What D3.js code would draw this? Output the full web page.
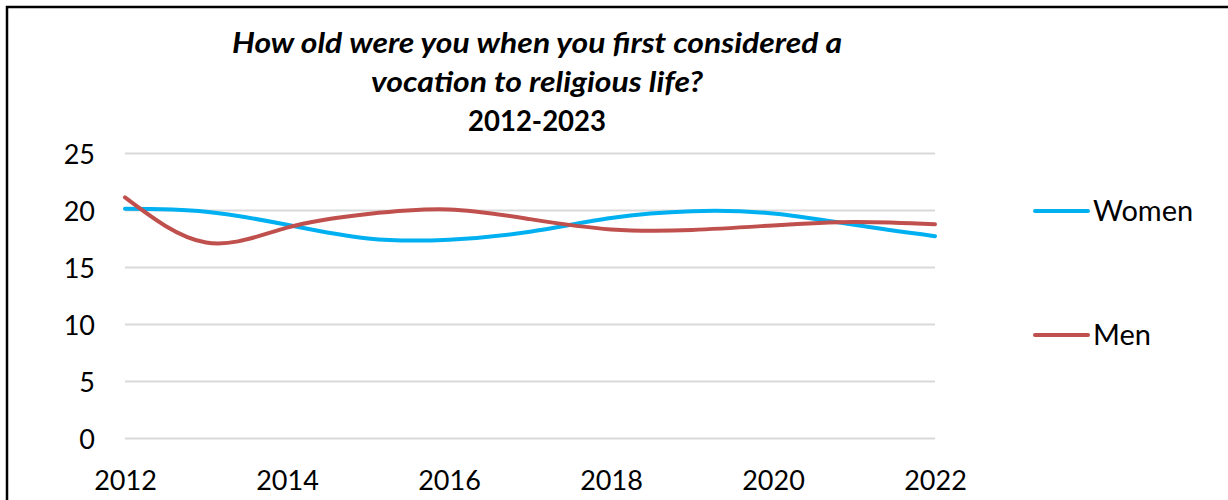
<!DOCTYPE html>
<html>
<head>
<meta charset="utf-8">
<script src="https://cdn.jsdelivr.net/npm/d3@7"></script>
<style>
  html, body { margin: 0; padding: 0; background: #fff; }
  svg { display: block; }
  text { font-family: Lato, "Open Sans", sans-serif; fill: #000; }
</style>
</head>
<body>
<svg id="chart" width="1228" height="500"></svg>
<script>
// Survey years
const years = [2012, 2013, 2014, 2015, 2016, 2017, 2018, 2019, 2020, 2021, 2022];
// Average age when a vocation was first considered
const women = [20.1, 19.85, 18.7, 17.5, 17.4, 18.1, 19.3, 19.9, 19.7, 18.7, 17.7];
const men   = [21.1, 17.15, 18.45, 19.65, 20.05, 19.2, 18.3, 18.25, 18.65, 18.95, 18.75];
const seriesNames = ["Women", "Men"];
const seriesColors = ["#00B0F0", "#C0504D"];
const yTicks = [0, 5, 10, 15, 20, 25];
const xTicks = [2012, 2014, 2016, 2018, 2020, 2022];
const titleLines = ["How old were you when you first considered a", "vocation to religious life?", "2012-2023"];

const svg = d3.select("#chart");

// Frame around the chart
svg.append("path")
  .attr("d", "M7,510 L7,7 L1240,7")
  .attr("fill", "none")
  .attr("stroke", "#000")
  .attr("stroke-width", 2.5);

const x = d3.scaleLinear().domain([2012, 2022]).range([125, 935]);
const y = d3.scaleLinear().domain([0, 25]).range([438, 153]);

// Horizontal gridlines
const grid = svg.append("g")
  .attr("transform", "translate(125,0)")
  .call(d3.axisLeft(y).tickValues(yTicks).tickSize(-810).tickFormat(""));
grid.select(".domain").remove();
grid.selectAll("line").attr("stroke", "#D9D9D9").attr("stroke-width", 2);

// Y axis labels
const yAxis = svg.append("g")
  .attr("transform", "translate(95,0)")
  .call(d3.axisLeft(y).tickValues(yTicks).tickSize(0).tickPadding(0));
yAxis.select(".domain").remove();
yAxis.selectAll("text")
  .attr("x", 0).attr("dy", null).attr("y", 10)
  .attr("text-anchor", "end")
  .style("font-family", "Lato, sans-serif")
  .style("font-size", "27px")
  .attr("fill", "#000");

// X axis labels
const xAxis = svg.append("g")
  .attr("transform", "translate(0,490)")
  .call(d3.axisBottom(x).tickValues(xTicks).tickFormat(d3.format("d")).tickSize(0));
xAxis.select(".domain").remove();
xAxis.selectAll("text")
  .attr("y", 0).attr("dy", null)
  .style("font-family", "Lato, sans-serif")
  .style("font-size", "27px")
  .attr("fill", "#000");

// Smoothed series lines
const line = d3.line()
  .x((d, i) => x(years[i]))
  .y(d => y(d))
  .curve(d3.curveNatural);

[women, men].forEach((vals, k) => {
  svg.append("path")
    .datum(vals)
    .attr("d", line)
    .attr("fill", "none")
    .attr("stroke", seriesColors[k])
    .attr("stroke-width", 4)
    .attr("stroke-linecap", "round");
});

// Title
const titleX = 537;
const titleBase = [53, 92, 131];
const titleWidths = [610, 332, 138];
titleLines.forEach((t, i) => {
  svg.append("text")
    .attr("x", titleX)
    .attr("y", titleBase[i])
    .attr("text-anchor", "middle")
    .attr("textLength", titleWidths[i])
    .attr("lengthAdjust", "spacingAndGlyphs")
    .style("font-size", "28px")
    .style("font-weight", "bold")
    .style("font-style", i < 2 ? "italic" : "normal")
    .text(t);
});

// Legend
const legendY = [211, 335];
seriesNames.forEach((name, k) => {
  const g = svg.append("g").attr("transform", `translate(1035,${legendY[k]})`);
  g.append("line")
    .attr("x1", 0).attr("x2", 53)
    .attr("stroke", seriesColors[k])
    .attr("stroke-width", 4)
    .attr("stroke-linecap", "round");
  g.append("text")
    .attr("x", 58).attr("y", 10)
    .style("font-size", "29px")
    .text(name);
});
</script>
</body>
</html>
